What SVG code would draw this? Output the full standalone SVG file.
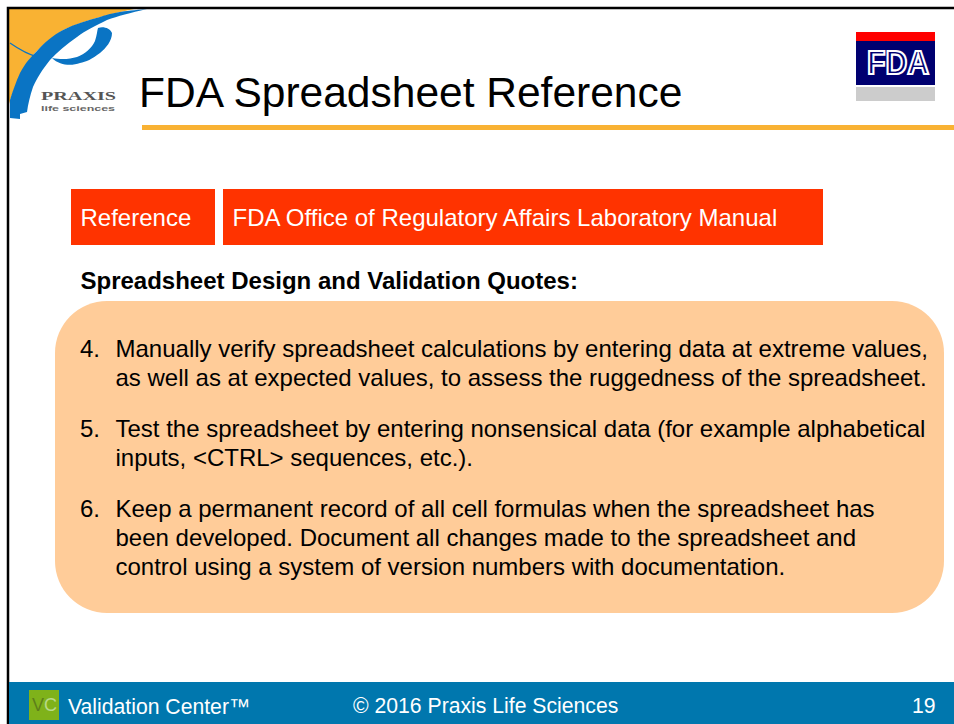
<svg xmlns="http://www.w3.org/2000/svg" width="954" height="724" viewBox="0 0 954 724">
<style>
text{font-family:"Liberation Sans",Arial,sans-serif}
.b{font-size:24px;fill:#000}
.w{font-size:24px;fill:#fff}
.f{font-size:21.200px;fill:#fff}
.box{fill:#ff3300}
</style>
<rect width="954" height="724" fill="#fff"/>
<g id="logo">
<path d="M9 9H134C110 14 85 20 63 30C48 40 36 50 28 62C20 73 14 88 9 104Z" fill="#f9b233"/>
<path d="M10 43C20 50 30 55 38 57" fill="none" stroke="#0a74c4" stroke-width="1.200"/>
<path d="M10 118L10 100C13 90 16 82 20 73C26 62 30 58 37 51C45 42 52 36 63 30C75 24 88 20 100 17C112 13 122 11 147 9C130 13 118 16 107 20C95 26 86 30 77 37C66 45 57 52 50 60C42 70 37 78 33 87C30 96 28 104 27 112L20 114L20 119Z" fill="#0a74c4"/>
<path d="M52 58C62 60 70 59 77 57C85 54 92 48 95 41C97 35 97 31 98 28C103 26 110 28 112 33C112 41 106 48 100 53C92 59 86 62 80 63C72 66 60 66 52 58Z" fill="#0a74c4"/>
<text x="41" y="100" font-size="12" font-weight="700" fill="#555" style="font-family:'Liberation Serif',serif" textLength="75" lengthAdjust="spacingAndGlyphs">PRAXIS</text>
<text x="41" y="111" font-size="8" font-weight="700" fill="#666" textLength="74" lengthAdjust="spacingAndGlyphs">life sciences</text>
</g>
<g id="frame">
<path d="M8 724V8H954" fill="none" stroke="#000" stroke-width="2.500"/>
</g>
<g id="title">
<text x="139" y="107" font-size="42.500" fill="#000">FDA Spreadsheet Reference</text>
<rect x="142" y="125" width="812" height="5" fill="#f9b233"/>
</g>
<g id="fda-logo">
<rect x="856" y="32" width="79" height="9" fill="#f00"/>
<rect x="856" y="41" width="79" height="44" fill="#000070"/>
<rect x="856" y="87" width="79" height="14" fill="#ccc"/>
<text x="867" y="74" font-size="33" font-weight="700" fill="#000070" stroke="#fff" stroke-width="2.200" textLength="62" lengthAdjust="spacingAndGlyphs">FDA</text>
</g>
<g id="reference-label">
<rect class="box" x="71" y="189" width="144" height="56"/>
<text class="w" x="80.500" y="226">Reference</text>
</g>
<g id="reference-value">
<rect class="box" x="223" y="189" width="600" height="56"/>
<text class="w" x="232.500" y="226">FDA Office of Regulatory Affairs Laboratory Manual</text>
</g>
<g id="heading">
<text x="80.500" y="289" font-size="24" font-weight="700" fill="#000">Spreadsheet Design and Validation Quotes:</text>
</g>
<g id="quotes">
<rect x="55" y="301" width="889" height="312" rx="52" ry="52" fill="#ffcc99"/>
<text class="b" x="80" y="357">4.</text>
<text class="b" x="115.500" y="357">Manually verify spreadsheet calculations by entering data at extreme values,</text>
<text class="b" x="115.500" y="386">as well as at expected values, to assess the ruggedness of the spreadsheet.</text>
<text class="b" x="80" y="437">5.</text>
<text class="b" x="115.500" y="437">Test the spreadsheet by entering nonsensical data (for example alphabetical</text>
<text class="b" x="115.500" y="466">inputs, &lt;CTRL&gt; sequences, etc.).</text>
<text class="b" x="80" y="517">6.</text>
<text class="b" x="115.500" y="517">Keep a permanent record of all cell formulas when the spreadsheet has</text>
<text class="b" x="115.500" y="546">been developed. Document all changes made to the spreadsheet and</text>
<text class="b" x="115.500" y="575">control using a system of version numbers with documentation.</text>
</g>
<g id="footer">
<rect x="9" y="682" width="945" height="42" fill="#0077ae"/>
<rect x="29" y="690" width="30" height="30" fill="#7fb21a"/>
<text x="32" y="711" font-size="18" fill="#5d7f1a">V<tspan fill="#b9d98a">C</tspan></text>
<text class="f" x="68" y="714">Validation Center™</text>
<text class="f" x="353" y="713">© 2016 Praxis Life Sciences</text>
<text class="f" x="912" y="713">19</text>
</g>
</svg>
